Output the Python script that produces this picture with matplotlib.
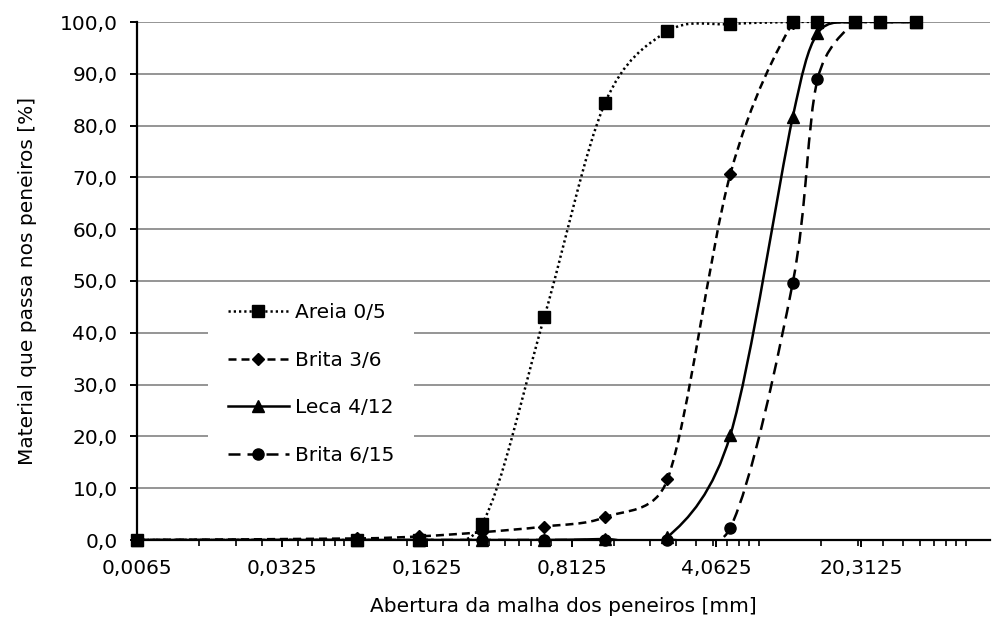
import numpy as np
import matplotlib
matplotlib.use("Agg")
import matplotlib.pyplot as plt
from matplotlib.path import Path
from matplotlib.patches import PathPatch
from matplotlib.lines import Line2D
from matplotlib.ticker import FixedLocator, FixedFormatter, NullFormatter

# sieve openings [mm] (first one is the pan, plotted at the axis minimum)
sieves = [0.0065, 0.075, 0.15, 0.3, 0.6, 1.18, 2.36, 4.75, 9.5, 12.5, 19, 25, 37.5]

areia = [0, 0, 0, 3.0, 43.0, 84.4, 98.2, 99.6, 100, 100, 100, 100, 100]
brita_36 = [0, 0.3, 0.7, 1.5, 2.6, 4.4, 11.7, 70.7, 99.9, 100, 100, 100, 100]
leca = [0, 0, 0, 0, 0, 0.2, 0.6, 20.3, 81.7, 97.8, 100, 100, 100]
brita_615 = [0, 0, 0, 0, 0, 0, 0, 2.4, 49.7, 88.9, 100, 100, 100]

labels = ["Areia 0/5", "Brita 3/6", "Leca 4/12", "Brita 6/15"]

x_major = [0.0065, 0.0325, 0.1625, 0.8125, 4.0625, 20.3125]
x_min, x_max = 0.0065, 85
y_ticks = list(range(0, 101, 10))

W, H = 995, 624
ax_box = [137 / W, 1 - 540 / H, (990 - 137) / W, (540 - 22) / H]
fs = 14.5

fig = plt.figure(figsize=(W / 100, H / 100), dpi=100)
ax = fig.add_axes(ax_box)
ax.set_xscale("log")
ax.set_xlim(x_min, x_max)
ax.set_ylim(0, 100)

# pixel scales, so the smoothing is done on screen like the spreadsheet does
sx = ax_box[2] * W / (np.log10(x_max) - np.log10(x_min))
sy = ax_box[3] * H / 100.0


def smooth_path(xs, ys):
    # spreadsheet style smoothed line: bezier segments, tension 1/6,
    # shortened when the neighbours are far away
    u = np.log10(np.asarray(xs, float)) * sx
    v = np.asarray(ys, float) * sy
    P = np.column_stack([u, v])
    n = len(P)
    verts = [P[0]]
    codes = [Path.MOVETO]
    for i in range(n - 1):
        p0 = P[max(i - 1, 0)]
        p1 = P[i]
        p2 = P[i + 1]
        p3 = P[min(i + 2, n - 1)]
        d02 = np.hypot(*(p2 - p0))
        d12 = np.hypot(*(p2 - p1))
        d13 = np.hypot(*(p3 - p1))
        f = g = 1 / 6
        if d02 / 6 >= d12 / 2 and d02 > 0:
            f = d12 / d02 / 2
        if d13 / 6 >= d12 / 2 and d13 > 0:
            g = d12 / d13 / 2
        c1 = p1 + f * (p2 - p0)
        c2 = p2 - g * (p3 - p1)
        verts += [c1, c2, p2]
        codes += [Path.CURVE4] * 3
    verts = np.array(verts)
    verts = np.column_stack([10 ** (verts[:, 0] / sx), verts[:, 1] / sy])
    return Path(verts, codes)


styles = [
    (areia, "s", 8, (0, (0.9, 1.2)), 6),
    (brita_36, "D", 6.5, (0, (3.2, 2.0)), 4),
    (leca, "^", 9, "-", 4),
    (brita_615, "o", 8, (0, (4.8, 2.8)), 4),
]

lw = 1.8
handles = []
for (vals, mk, ms, ls, z), lab in zip(styles, labels):
    patch = PathPatch(smooth_path(sieves, vals), fill=False, edgecolor="black",
                      lw=lw, linestyle=ls, zorder=z)
    ax.add_patch(patch)
    ax.plot(sieves, vals, linestyle="none", marker=mk, ms=ms, color="black",
            zorder=z + 0.5, clip_on=False)
    handles.append(Line2D([], [], color="black", lw=lw, linestyle=ls,
                          marker=mk, ms=ms))

# axes look
ax.grid(True, axis="y", color="#8c8c8c", lw=1.3)
ax.set_axisbelow(True)
for s in ["top", "right"]:
    ax.spines[s].set_visible(False)
for s in ["left", "bottom"]:
    ax.spines[s].set_linewidth(1.6)
    ax.spines[s].set_color("black")

ax.xaxis.set_major_locator(FixedLocator(x_major))
ax.xaxis.set_major_formatter(FixedFormatter([f"{v:g}".replace(".", ",") for v in x_major]))
minor = [x_min * k * 10 ** n for n in range(5) for k in range(1, 10)]
minor = [m for m in minor if x_min < m < x_max]
ax.xaxis.set_minor_locator(FixedLocator(minor))
ax.xaxis.set_minor_formatter(NullFormatter())

ax.set_yticks(y_ticks)
ax.set_yticklabels([f"{v:.1f}".replace(".", ",") for v in y_ticks])

ax.tick_params(axis="both", which="major", direction="out", length=5, width=1.4,
               labelsize=fs, pad=9, colors="black")
ax.tick_params(axis="x", which="minor", direction="out", length=4, width=1.2)

ax.set_xlabel("Abertura da malha dos peneiros [mm]", fontsize=fs, labelpad=13)
ax.set_ylabel("Material que passa nos peneiros [%]", fontsize=fs, labelpad=16)

leg = fig.legend(handles, labels, loc="upper left",
                 bbox_to_anchor=(208 / W, 1 - 283 / H), frameon=True,
                 fontsize=fs, handlelength=3.0, handletextpad=0.3,
                 labelspacing=1.42, borderpad=1.0, borderaxespad=0)
leg.get_frame().set_facecolor("white")
leg.get_frame().set_edgecolor("none")
leg.get_frame().set_alpha(1)
leg.set_zorder(3)

fig.savefig("out.png", dpi=100)
